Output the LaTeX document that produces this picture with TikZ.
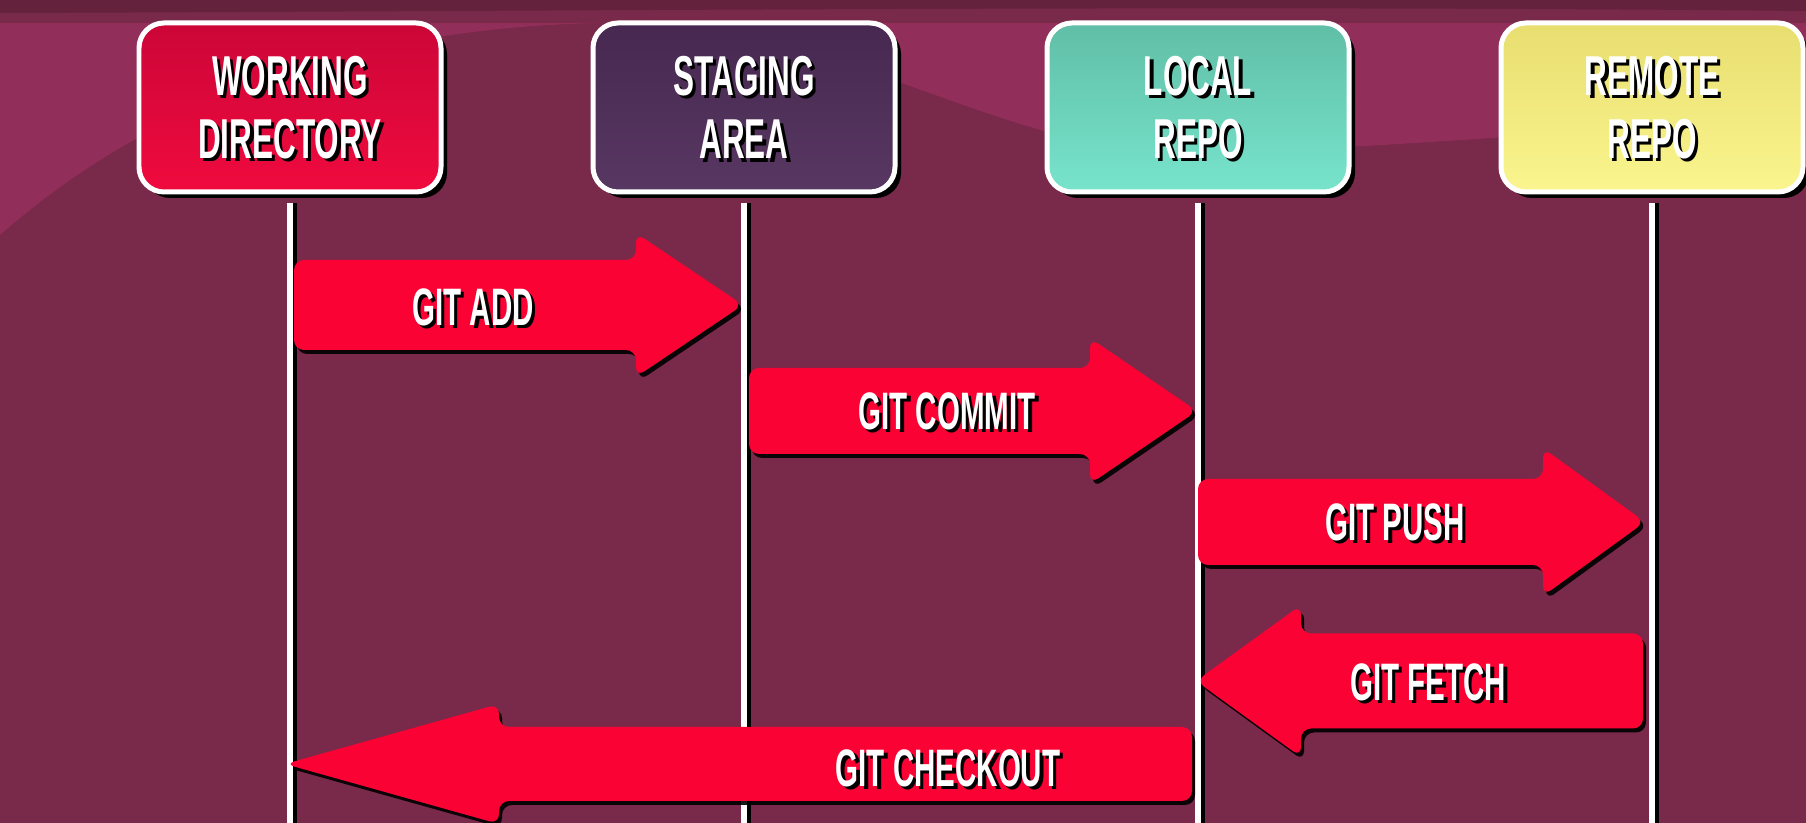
\documentclass[tikz,border=0pt]{standalone}
\usepackage{fontspec}
\usepackage{xcolor}
\usetikzlibrary{calc,shadows}

\newfontfamily\capsfont[FakeStretch=0.56]{Liberation Sans}

\definecolor{bgmaroon}{RGB}{121,41,73}
\definecolor{bglight}{RGB}{146,46,90}
\definecolor{bgdark}{RGB}{100,34,60}
\definecolor{gitred}{RGB}{250,2,52}

% block arrow: from, tip, body half height, head half height, head length (signed)
\newcommand{\blockarrow}[5]{%
  \fill[gitarrow] ($(#1)+(0,#3)$) -- ($(#2)+({-1*(#5)},#3)$) -- ($(#2)+({-1*(#5)},#4)$)
    -- (#2) -- ($(#2)+({-1*(#5)},{-1*(#4)})$) -- ($(#2)+({-1*(#5)},{-1*(#3)})$)
    -- ($(#1)+(0,{-1*(#3)})$) -- cycle;}

% white caps text with a black drop shadow
\newcommand{\gitlabel}[4][caps]{%
  \node[#1, text=black] at ($(#3)+(0.035,-0.035)$) {#4};
  \node[#1] (#2) at (#3) {#4};}

\begin{document}
\begin{tikzpicture}[
    caps/.style={font=\capsfont\bfseries\fontsize{16}{18}\selectfont, text=white, align=center, inner sep=0pt},
    cmd/.style={caps, font=\capsfont\bfseries\fontsize{15}{18}\selectfont},
    lanebox/.style={draw=white, line width=0.5mm, rounded corners=2.5mm,
      minimum width=3.02cm, minimum height=1.69cm,
      drop shadow={shadow xshift=0.6mm, shadow yshift=-0.6mm, fill=black, opacity=1}},
    lane/.style={white, line width=0.6mm},
    lane shadow/.style={black, line width=0.6mm},
    gitarrow/.style={fill=gitred, rounded corners=1mm,
      drop shadow={shadow xshift=0.3mm, shadow yshift=-0.4mm, fill=black, opacity=0.9}}
  ]
    \useasboundingbox (0,0) rectangle (18.06,8.23);

    % background
    \fill[bgmaroon] (0,0) rectangle (18.06,8.23);
    \fill[bglight] (0,8.00) -- (0,5.88) .. controls (1.5,7.2) and (3.5,7.95) .. (6.0,8.00)
      .. controls (8.5,8.02) and (10,6.65) .. (12,6.70)
      .. controls (14,6.75) and (16,6.95) .. (18.06,7.05) -- (18.06,8.00) -- cycle;
    \fill[bgdark] (0,8.23) -- (0,8.10) .. controls (6,8.12) and (12,8.18) .. (18.06,8.12) -- (18.06,8.23) -- cycle;

    % stages
    \node[lanebox, top color={rgb,255:red,204;green,6;blue,56}, bottom color={rgb,255:red,240;green,10;blue,62}] (wd) at (2.90,7.155) {};
    \node[lanebox, top color={rgb,255:red,70;green,40;blue,80}, bottom color={rgb,255:red,88;green,56;blue,98}] (stage) at (7.44,7.155) {};
    \node[lanebox, top color={rgb,255:red,96;green,190;blue,166}, bottom color={rgb,255:red,120;green,228;blue,204}] (local) at (11.98,7.155) {};
    \node[lanebox, top color={rgb,255:red,232;green,222;blue,112}, bottom color={rgb,255:red,250;green,245;blue,142}] (remote) at (16.52,7.155) {};

    \gitlabel{wd-text}{wd.center}{WORKING\\DIRECTORY}
    \gitlabel{stage-text}{stage.center}{STAGING\\AREA}
    \gitlabel{local-text}{local.center}{LOCAL\\REPO}
    \gitlabel{remote-text}{remote.center}{REMOTE\\REPO}

    % lanes
    \foreach \n in {wd,stage,local,remote}{
        \coordinate (\n-top) at ([yshift=-0.9mm]\n.south);
        \coordinate (\n-end) at (\n.south |- 0,0);
        \draw[lane shadow] ([xshift=0.35mm]\n-top) -- ([xshift=0.35mm]\n-end);
        \draw[lane] (\n-top) -- (\n-end);
    }

    % commands
    \coordinate (add-from) at (2.94,5.18);       \coordinate (add-tip) at (7.43,5.18);
    \coordinate (commit-from) at (7.49,4.12);    \coordinate (commit-tip) at (11.97,4.12);
    \coordinate (push-from) at (11.98,3.01);     \coordinate (push-tip) at (16.45,3.01);
    \coordinate (fetch-from) at (16.43,1.42);    \coordinate (fetch-tip) at (11.96,1.42);
    \coordinate (checkout-from) at (11.92,0.59); \coordinate (checkout-tip) at (2.85,0.59);

    \blockarrow{add-from}{add-tip}{0.45}{0.72}{1.07}
    \blockarrow{commit-from}{commit-tip}{0.43}{0.73}{1.07}
    \blockarrow{push-from}{push-tip}{0.43}{0.74}{1.02}
    \blockarrow{fetch-from}{fetch-tip}{0.475}{0.76}{-1.05}
    \blockarrow{checkout-from}{checkout-tip}{0.37}{0.60}{-2.14}

    \gitlabel[cmd]{add}{4.73,5.16}{GIT ADD}
    \gitlabel[cmd]{commit}{9.47,4.12}{GIT COMMIT}
    \gitlabel[cmd]{push}{13.95,3.01}{GIT PUSH}
    \gitlabel[cmd]{fetch}{14.28,1.41}{GIT FETCH}
    \gitlabel[cmd]{checkout}{9.48,0.55}{GIT CHECKOUT}
\end{tikzpicture}
\end{document}
